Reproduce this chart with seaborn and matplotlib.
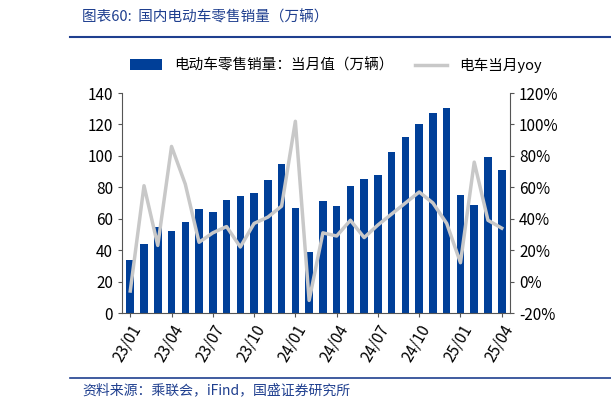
import matplotlib
matplotlib.use("Agg")
import matplotlib.pyplot as plt
import seaborn as sns
import pandas as pd
import numpy as np

plt.rcParams['font.family'] = ['Noto Sans CJK SC', 'DejaVu Sans']

# --- datos ---
meses = ['23/01', '23/02', '23/03', '23/04', '23/05', '23/06', '23/07', '23/08', '23/09', '23/10',
         '23/11', '23/12', '24/01', '24/02', '24/03', '24/04', '24/05', '24/06', '24/07', '24/08',
         '24/09', '24/10', '24/11', '24/12', '25/01', '25/02', '25/03', '25/04']
ventas = [33.5, 44, 55, 52.5, 58, 66.5, 64.5, 72, 74.5, 76.5,
          84.5, 95, 67, 39, 71.5, 68, 81, 85.5, 88, 102.5,
          112, 120, 127, 130.5, 75, 68.5, 99.5, 91]
yoy = [-6, 61, 23, 86, 62, 25, 31, 35, 22, 37,
       41, 48, 102, -12, 31, 29, 39, 28, 36, 43,
       50, 57, 50, 37, 12, 76, 39, 34]

df = pd.DataFrame({'mes': meses, 'ventas': ventas, 'yoy': yoy})
azul = '#003F98'
gris = '#C8C8C8'

fig = plt.figure(figsize=(6.11, 4.09), dpi=100)
ax = fig.add_axes([122/611, 1-313/409, (510-122)/611, 220/409])
sns.barplot(data=df, x='mes', y='ventas', color=azul, width=0.55, ax=ax, saturation=1,
            label='电动车零售销量：当月值（万辆）')
ax2 = ax.twinx()
ax2.plot(np.arange(len(meses)), df['yoy'], color=gris, lw=2.5, label='电车当月yoy')

ax.set_ylim(0, 140)
ax.set_yticks(range(0, 141, 20))
ax2.set_ylim(-20, 120)
ax2.set_yticks(range(-20, 121, 20))
ax2.set_yticklabels([f'{v}%' for v in range(-20, 121, 20)])
ax.set_xlim(-0.6, len(meses) - 0.4)
ax.set_xticks(range(0, len(meses), 3))
ax.set_xticklabels(meses[::3], rotation=60, ha='right', rotation_mode='anchor', fontsize=11)
ax.set_xlabel('')
ax.set_ylabel('')
for a in (ax, ax2):
    a.tick_params(labelsize=11, length=3, color='#555555')
    a.spines['top'].set_visible(False)
    for s in ['left', 'right', 'bottom']:
        a.spines[s].set_color('#555555')
ax.spines['right'].set_visible(False)
ax2.spines['left'].set_visible(False)
ax2.spines['bottom'].set_visible(False)

h1, l1 = ax.get_legend_handles_labels()
h2, l2 = ax2.get_legend_handles_labels()
if ax.get_legend() is not None:
    ax.get_legend().remove()
fig.legend(h1 + h2, l1 + l2, loc='center', bbox_to_anchor=(0.55, 1-65/409), ncol=2,
           frameon=False, fontsize=10.5, handlelength=2.2, columnspacing=1.5)

# titulo y fuente
fig.text(0.135, 1-17/409, '图表60:  国内电动车零售销量（万辆）', fontsize=10.5, style='italic',
         color='#1F3F8F', va='center')
fig.add_artist(plt.Line2D([0.115, 1.0], [1-37/409, 1-37/409], color='#1F3F8F', lw=1.5))
fig.add_artist(plt.Line2D([0.115, 1.0], [1-378/409, 1-378/409], color='#1F3F8F', lw=1.2))
fig.text(0.135, 1-390/409, '资料来源：乘联会，iFind，国盛证券研究所', fontsize=10, style='italic',
         color='#1F3F8F', va='center')

fig.savefig('out.png', dpi=100)
